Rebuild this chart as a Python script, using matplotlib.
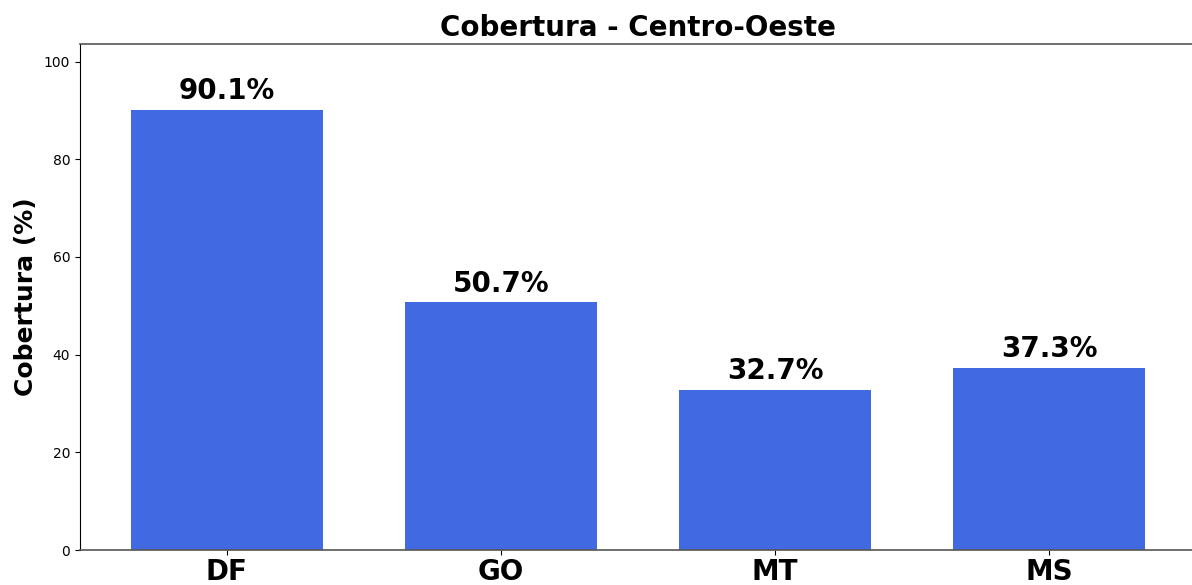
import matplotlib
matplotlib.use("Agg")
import matplotlib.pyplot as plt

# dados
estados = ["DF", "GO", "MT", "MS"]
cobertura = [90.1, 50.7, 32.7, 37.3]

fig = plt.figure(figsize=(11.92, 5.85), dpi=100)
# o original vem cortado: a borda direita do eixo fica fora da imagem
ax = fig.add_axes([80 / 1192, 35 / 585, 1116 / 1192, 506 / 585])

bars = ax.bar(estados, cobertura, width=0.7, color="royalblue")
ax.set_ylim(0, max(cobertura) * 1.15)

for b, v in zip(bars, cobertura):
    ax.text(b.get_x() + b.get_width() / 2, v + 1, f"{v}%",
            ha="center", va="bottom", fontsize=20, fontweight="bold")

ax.set_title("Cobertura - Centro-Oeste", fontsize=20, fontweight="bold")
ax.set_ylabel("Cobertura (%)", fontsize=18, fontweight="bold")
ax.tick_params(axis="y", labelsize=10)
ax.tick_params(axis="x", labelsize=20, pad=2)
for lbl in ax.get_xticklabels():
    lbl.set_fontweight("bold")

for s in ["top", "bottom", "right"]:
    ax.spines[s].set_color("#555555")
    ax.spines[s].set_linewidth(1.2)

fig.savefig("out.png", dpi=100)
